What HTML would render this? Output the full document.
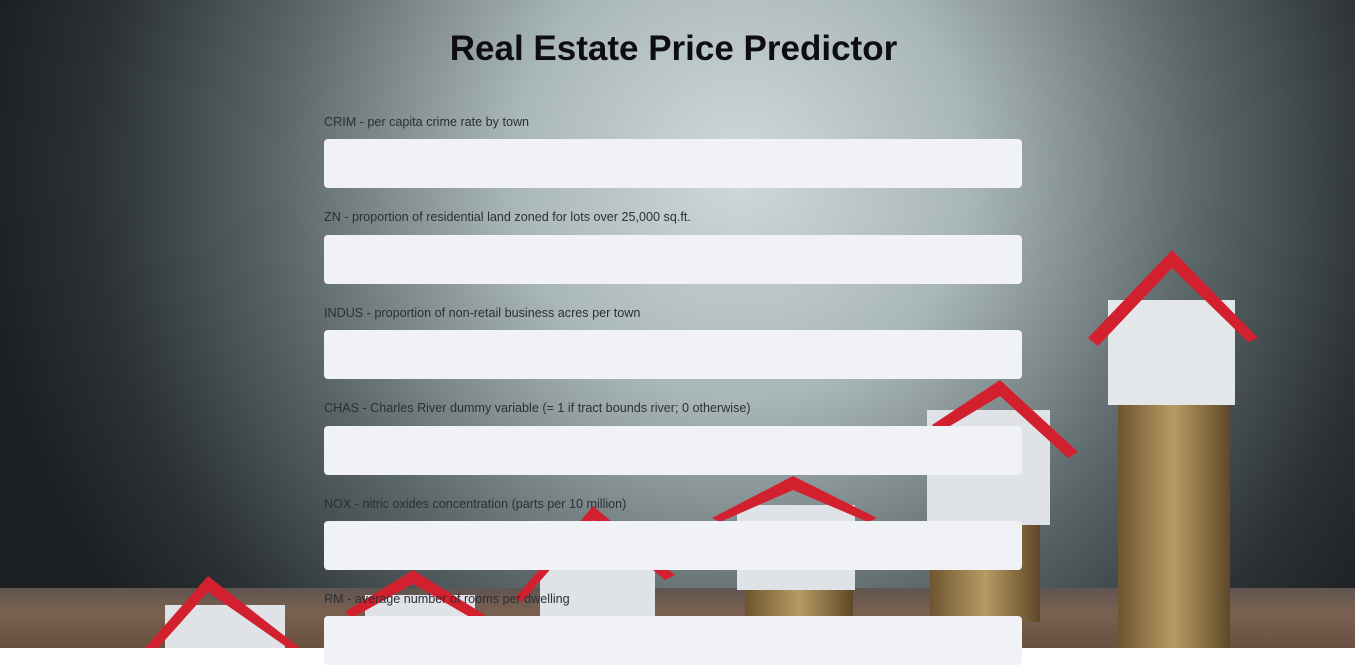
<!DOCTYPE html>
<html><head><meta charset="utf-8"><style>
html,body{margin:0;padding:0;width:1355px;height:648px;overflow:hidden;font-family:"Liberation Sans",sans-serif}
#bg{position:absolute;left:0;top:0}
h1{position:absolute;left:0;width:1347px;top:29px;margin:0;text-align:center;font-size:35px;font-weight:bold;color:#0d0d12}
.lbl{position:absolute;left:324px;font-size:12.6px;color:#2c2e38}
.inp{position:absolute;left:324px;width:698px;height:49px;background:#f0f2f6;border:none;border-radius:4px;padding:0;margin:0}
</style></head><body>
<svg id="bg" width="1355" height="648">
<defs>
<radialGradient id="g" cx="740" cy="170" r="760" gradientUnits="userSpaceOnUse">
<stop offset="0" stop-color="#cfd9d9"/><stop offset="0.3" stop-color="#aab7b8"/><stop offset="0.6" stop-color="#5d686b"/><stop offset="0.85" stop-color="#2b3134"/><stop offset="1" stop-color="#1c2022"/></radialGradient>
<linearGradient id="fl" x1="0" y1="0" x2="0" y2="1"><stop offset="0" stop-color="#5f5550"/><stop offset="0.4" stop-color="#7a6050"/><stop offset="1" stop-color="#6a5040"/></linearGradient>
<linearGradient id="coin" x1="0" y1="0" x2="1" y2="0"><stop offset="0" stop-color="#6e5530"/><stop offset="0.5" stop-color="#b89a62"/><stop offset="1" stop-color="#5e4828"/></linearGradient>
</defs>
<rect width="1355" height="648" fill="url(#g)"/>
<rect y="588" width="1355" height="60" fill="url(#fl)"/>
<g>
<rect x="1118" y="400" width="112" height="248" fill="url(#coin)"/>
<rect x="1108" y="300" width="127" height="105" fill="#e4e7ea"/>
<polygon points="1088,338 1172,250 1258,338 1248,342 1172,268 1098,346" fill="#d3202e"/></g>
<g>
<rect x="930" y="522" width="110" height="100" fill="url(#coin)"/>
<rect x="927" y="410" width="123" height="115" fill="#dfe2e6"/>
<polygon points="932,425 1000,380 1078,452 1068,458 1000,396 940,432" fill="#d3202e"/></g>
<g>
<rect x="745" y="588" width="108" height="30" fill="url(#coin)"/>
<rect x="737" y="505" width="118" height="85" fill="#dfe2e6"/>
<polygon points="712,518 793,476 877,518 868,522 793,490 720,522" fill="#d3202e"/></g>
<g>
<rect x="540" y="545" width="115" height="75" fill="#dfe2e6"/>
<polygon points="515,598 593,506 675,575 665,580 593,520 522,602" fill="#d3202e"/></g>
<g>
<rect x="365" y="595" width="110" height="53" fill="#dfe2e6"/>
<polygon points="345,612 413,570 485,615 475,620 413,584 352,618" fill="#d3202e"/></g>
<g>
<rect x="165" y="605" width="120" height="43" fill="#dfe2e6"/>
<polygon points="145,648 208,576 300,648 288,648 208,592 158,648" fill="#d3202e"/></g>
</svg>
<h1>Real Estate Price Predictor</h1>
<div class="lbl" style="top:115px">CRIM - per capita crime rate by town</div>
<div class="inp" style="top:139px"></div>
<div class="lbl" style="top:210px">ZN - proportion of residential land zoned for lots over 25,000 sq.ft.</div>
<div class="inp" style="top:235px"></div>
<div class="lbl" style="top:306px">INDUS - proportion of non-retail business acres per town</div>
<div class="inp" style="top:330px"></div>
<div class="lbl" style="top:401px">CHAS - Charles River dummy variable (= 1 if tract bounds river; 0 otherwise)</div>
<div class="inp" style="top:426px"></div>
<div class="lbl" style="top:497px">NOX - nitric oxides concentration (parts per 10 million)</div>
<div class="inp" style="top:521px"></div>
<div class="lbl" style="top:592px">RM - average number of rooms per dwelling</div>
<div class="inp" style="top:616px"></div>
</body></html>
